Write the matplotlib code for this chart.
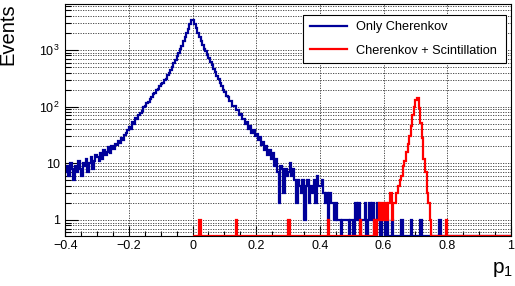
#p1 distribution: only Cherenkov vs Cherenkov + Scintillation (log y)

import numpy as np
import matplotlib
matplotlib.use('Agg')
import matplotlib.pyplot as plt
from matplotlib.lines import Line2D
from matplotlib.ticker import FixedLocator, LogLocator, NullFormatter

plt.rcParams['font.family'] = ['Liberation Sans', 'DejaVu Sans']

# --- data (bin width 0.005) ---
# blue: bins from -0.4 up to 0.78, the rest is empty up to 1.0
blue_counts = [
    7, 9, 6, 10, 8, 5, 9, 7, 11, 8, 6, 10, 9, 12, 7, 10, 13, 8, 11, 14,
    13, 11, 15, 12, 17, 14, 16, 19, 15, 20, 18, 22, 21, 25, 23, 28, 26, 31, 34, 39,
    44, 41, 53, 49, 64, 60, 71, 78, 84, 97, 101, 118, 122, 137, 145, 166, 174, 194, 205, 232,
    248, 259, 292, 311, 360, 394, 452, 507, 596, 668, 785, 880, 1035, 1190, 1425, 1685, 2010, 2380, 2900, 3420,
    3450, 2860, 2410, 1990, 1710, 1430, 1240, 1060, 940, 805, 715, 610, 545, 460, 412, 350, 307, 258, 233, 196,
    182, 151, 149, 127, 124, 104, 103, 88, 86, 71, 73, 60, 61, 49, 53, 41, 45, 34, 38, 30,
    33, 26, 29, 21, 24, 17, 20, 14, 17, 12, 15, 9, 12, 7, 2, 9, 8, 3, 8, 6,
    7, 10, 6, 8, 5, 2, 5, 4, 3, 5, 1, 4, 5, 2, 4, 3, 5, 2, 6, 4,
    4, 5, 3, 2, 3, 1, 3, 2, 2, 1, 2, 1, 1, 0, 1, 1, 1, 1, 0, 1,
    1, 0, 2, 1, 2, 0, 1, 1, 2, 0, 1, 2, 1, 2, 0, 1, 2, 1, 0, 1,
    1, 0, 1, 0, 0, 1, 0, 0, 0, 0, 0, 1, 0, 0, 0, 0, 0, 1, 0, 0,
    0, 0, 0, 1, 0, 0, 0, 0, 0, 0, 0, 0, 0, 0, 0, 1,
]

# red: only the non-empty bins (bin centre, entries)
red_p1 = [0.0225, 0.1375, 0.3025, 0.4275, 0.5275,
          0.5725, 0.5825, 0.5875, 0.5925, 0.5975, 0.6025, 0.6075, 0.6125,
          0.6175, 0.6225, 0.6275, 0.6325,
          0.6375, 0.6425, 0.6475, 0.6525, 0.6575, 0.6625, 0.6675, 0.6725,
          0.6775, 0.6825, 0.6875, 0.6925, 0.6975, 0.7025, 0.7075, 0.7125,
          0.7175, 0.7225, 0.7275, 0.7325, 0.7375, 0.7425, 0.7475, 0.7975]
red_counts = [1, 1, 1, 1, 1,
              1, 1, 2, 1, 2, 1, 2, 1,
              2, 3, 1, 2,
              2, 3, 4, 5, 6, 9, 11, 16,
              22, 30, 45, 72, 98, 130, 142, 95,
              52, 28, 12, 7, 3, 2, 1, 1]

x_ticks = [-0.4, -0.2, 0, 0.2, 0.4, 0.6, 0.8, 1.0]
x_labels = ['\u22120.4', '\u22120.2', '0', '0.2', '0.4', '0.6', '0.8', '1']
y_ticks = [1, 10, 100, 1000]
y_labels = ['1', '10', r'$\mathregular{10^{2}}$', r'$\mathregular{10^{3}}$']

ymin, ymax = 0.52, 6400

# --- histograms ---
blue_edges = np.linspace(-0.4, 1.0, 281)
blue = np.zeros(280)
blue[:len(blue_counts)] = blue_counts

red_edges = np.linspace(0.0, 1.0, 201)
red, _ = np.histogram(red_p1, bins=red_edges, weights=red_counts)

# empty bins are drawn on the bottom of the frame (like ROOT does on log scale)
blue_draw = np.where(blue > 0, blue, ymin)
red_draw = np.where(red > 0, red, ymin)

# --- plotting ---
fig = plt.figure(figsize=(5.15, 2.86), dpi=100)
ax = fig.add_axes([65.2 / 515, 50 / 286, (511 - 65.2) / 515, (236 - 4.3) / 286])

ax.stairs(blue_draw, blue_edges, color='#000099', linewidth=1.6, baseline=None, zorder=3)
ax.stairs(red_draw, red_edges, color='#ff0000', linewidth=1.6, baseline=None, zorder=3)

ax.set_yscale('log')
ax.set_xlim(-0.4, 1.0)
ax.set_ylim(ymin, ymax)

ax.set_xticks(x_ticks)
ax.set_xticklabels(x_labels)
ax.xaxis.set_minor_locator(FixedLocator(np.arange(-0.4, 1.001, 0.05)))
ax.set_yticks(y_ticks)
ax.set_yticklabels(y_labels)
ax.yaxis.set_minor_locator(LogLocator(base=10, subs=range(2, 10)))
ax.yaxis.set_minor_formatter(NullFormatter())

ax.tick_params(axis='x', which='major', direction='in', length=7, width=0.8, labelsize=9, pad=3)
ax.tick_params(axis='x', which='minor', direction='in', length=3.5, width=0.8)
ax.tick_params(axis='y', which='major', direction='in', length=9, width=0.8, labelsize=9, pad=4)
ax.tick_params(axis='y', which='minor', direction='in', length=4.5, width=0.8)

# dotted grid: x on major ticks, y on every log tick
grid_style = dict(color='0.2', linestyle=(0, (1.5, 1.5)), linewidth=0.6)
ax.grid(True, which='major', axis='x', **grid_style)
ax.grid(True, which='both', axis='y', **grid_style)
ax.set_axisbelow(True)

for s in ax.spines.values():
    s.set_linewidth(0.8)
    s.set_zorder(4)

# legend
handles = [Line2D([], [], color='#000099', linewidth=1.6),
           Line2D([], [], color='#ff0000', linewidth=1.6)]
leg = ax.legend(handles, ['Only Cherenkov', 'Cherenkov + Scintillation'],
                loc='upper left', mode='expand',
                bbox_to_anchor=(303.3 / 515, (286 - 65.7) / 286, 202.7 / 515, 50.7 / 286),
                bbox_transform=fig.transFigure, fontsize=9.2, frameon=True,
                fancybox=False, edgecolor='black', framealpha=1, borderpad=0.5,
                labelspacing=0.9, handlelength=2.9, handletextpad=0.7, borderaxespad=0)
leg.get_frame().set_linewidth(0.8)
leg.set_zorder(5)

# axis titles, placed like ROOT (right/top aligned)
fig.text(8 / 515, 1 - 3 / 286, 'Events', rotation=90, ha='center', va='top', fontsize=14.5)
fig.text(513 / 515, (286 - 279) / 286, r'$\mathregular{p_{1}}$', ha='right', va='bottom', fontsize=15)

fig.savefig('out.png', dpi=100)
